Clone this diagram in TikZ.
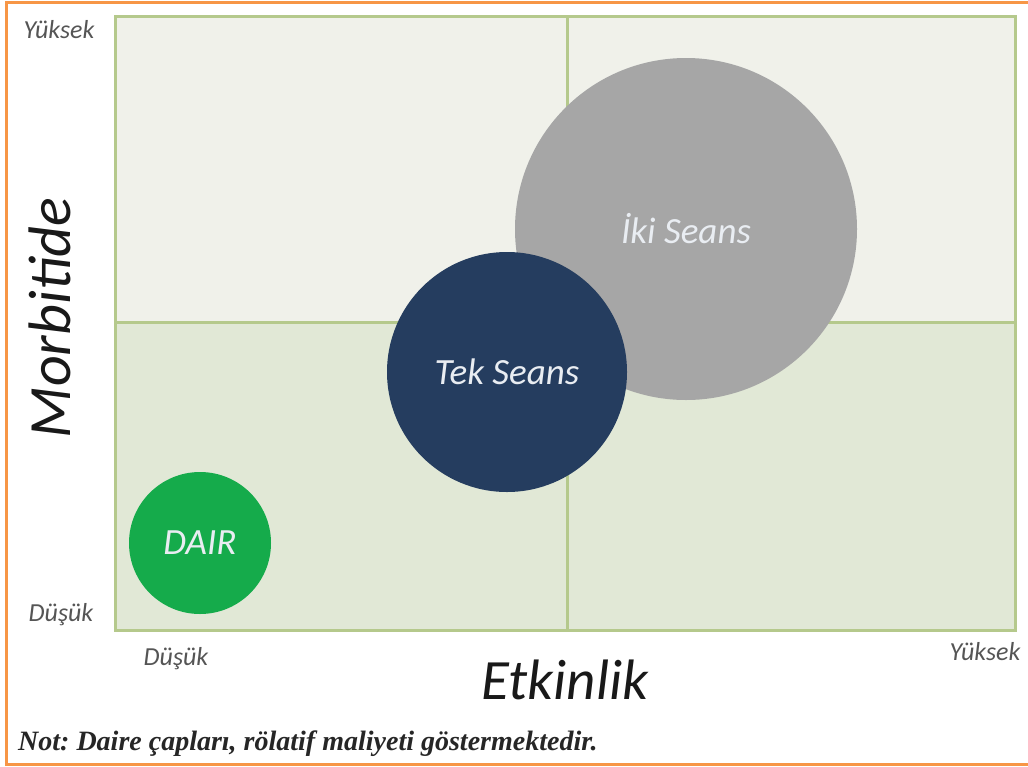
\documentclass[tikz,border=0pt]{standalone}
\usepackage{fontspec}
\setmainfont{Carlito}
\newfontfamily\notefont{Liberation Serif}
\definecolor{topfill}{HTML}{F0F1EA}
\definecolor{botfill}{HTML}{E1E8D6}
\definecolor{gridc}{HTML}{B5C98C}
\definecolor{framec}{HTML}{F79646}
\definecolor{darkblue}{HTML}{253D5F}
\definecolor{grayc}{HTML}{A6A6A6}
\definecolor{greenc}{HTML}{15AB4B}
\definecolor{labelc}{HTML}{555555}
\definecolor{circtext}{HTML}{E9EDF2}
\tikzset{
  bubble/.style={circle, inner sep=0pt, text=circtext, font=\fontsize{37}{40}\selectfont\itshape},
  ticklabel/.style={text=labelc, font=\fontsize{26}{28}\selectfont\itshape},
  axislabel/.style={text=black!90, font=\fontsize{57}{60}\selectfont\itshape},
}
\begin{document}
\frenchspacing
\begin{tikzpicture}[x=1pt,y=-1pt]
\useasboundingbox (0,0) rectangle (1028,766);
\fill[white] (0,0) rectangle (1028,766);
% orange frame (open on the right)
\draw[framec, line width=3pt] (1028,2) -- (6,2) -- (6,764) -- (1028,764);
% quadrants
\fill[topfill] (115,16) rectangle (1015,322);
\fill[botfill] (115,322) rectangle (1015,630);
\draw[gridc, line width=3pt] (115,16) rectangle (1015,630);
\draw[gridc, line width=3pt] (567,16) -- (567,630);
\draw[gridc, line width=3pt] (115,322) -- (1015,322);
% bubbles
\node[bubble, fill=grayc, minimum size=342pt] (iki) at (686,229) {İki Seans};
\node[bubble, fill=darkblue, minimum size=240pt] (tek) at (507,372) {Tek Seans};
\node[bubble, fill=greenc, minimum size=142pt] (dair) at (200,543) {DAIR};
% axis ticks
\node[ticklabel] (yhigh) at (59,30) {Yüksek};
\node[ticklabel] (ylow) at (61,615) {Düşük};
\node[ticklabel] (xlow) at (176,659) {Düşük};
\node[ticklabel] (xhigh) at (985,652) {Yüksek};
% axis titles
\node[axislabel] (xtitle) at (565,680) {Etkinlik};
\node[axislabel, rotate=90] (ytitle) at (50,318) {\fontsize{60}{64}\selectfont Morbitide};
% note
\node[anchor=west, inner sep=0pt, text=black!85, font=\notefont\fontsize{28}{30}\selectfont\bfseries\itshape] (note) at (18,744) {Not: Daire çapları, rölatif maliyeti göstermektedir.};
\end{tikzpicture}
\end{document}
